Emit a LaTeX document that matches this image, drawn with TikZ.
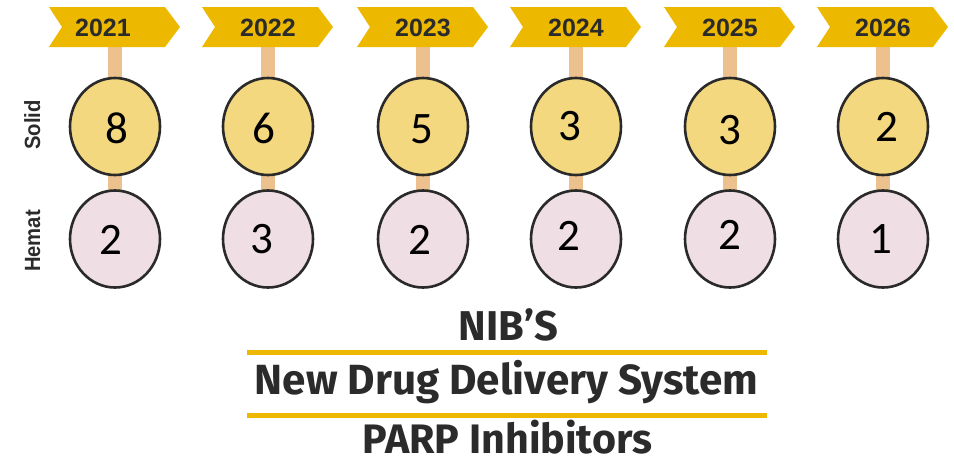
\documentclass[tikz,border=0pt]{standalone}
\usepackage{fontspec}
\setmainfont{Liberation Sans}
\newfontfamily\numfont{Carlito}
\newfontfamily\titlefont{Fira Sans}
\usetikzlibrary{shapes.geometric}
\definecolor{banneryellow}{HTML}{ECB800}
\definecolor{posttan}{HTML}{ECC18E}
\definecolor{solidfill}{HTML}{F3D880}
\definecolor{hematfill}{HTML}{EFDFE5}
\definecolor{rimgray}{HTML}{2A2A2A}
\definecolor{inkgray}{HTML}{2B2B2B}
\tikzset{
  bannerbox/.style={fill=banneryellow, draw=none},
  postbar/.style={fill=posttan, draw=none},
  solidcirc/.style={ellipse, draw=rimgray, line width=2.6pt, fill=solidfill, minimum width=90pt, minimum height=97pt, inner sep=0pt},
  hematcirc/.style={ellipse, draw=rimgray, line width=2.6pt, fill=hematfill, minimum width=90pt, minimum height=97pt, inner sep=0pt},
  yearlabel/.style={anchor=base, inner sep=0pt, text=inkgray, font=\bfseries\fontsize{25}{25}\selectfont},
  countlabel/.style={anchor=base, inner sep=0pt, text=black, font=\numfont\fontsize{45}{45}\selectfont},
  sidelabel/.style={anchor=base, rotate=90, inner sep=0pt, text=inkgray, font=\bfseries\fontsize{22}{22}\selectfont},
  titlelabel/.style={anchor=base, inner sep=0pt, text=inkgray, font=\titlefont\bfseries},
  rule/.style={draw=banneryellow, line width=5pt}
}
\begin{document}
\begin{tikzpicture}[x=1pt, y=-1pt]
\useasboundingbox (0,0) rectangle (954,459);

\foreach \c/\yr/\yx/\s/\sx/\sy/\h/\hx/\hy/\i in {
  115/2021/103/8/117/129/2/111/240/1,
  268/2022/268/6/264/129/3/262/239/2,
  423/2023/423/5/422/129/2/420/240/3,
  576/2024/576/3/570/126/2/569/236/4,
  730/2025/730/3/730/130/2/730/235/5,
  883/2026/883/2/887/127/1/881/239/6}{
  \fill[postbar] (\c-7,47) rectangle (\c+7,190);
  \fill[bannerbox] (\c-66,7) -- (\c+50,7) -- (\c+65,27) -- (\c+50,47) -- (\c-66,47) -- (\c-53,27) -- cycle;
  \node[yearlabel] (year\i) at (\yx,36) {\yr};
  \node[solidcirc] (solid\i) at (\c,126.5) {};
  \node[hematcirc] (hemat\i) at (\c,239) {};
  \node[countlabel] (scount\i) at (\sx,\sy+14.2) {\s};
  \node[countlabel] (hcount\i) at (\hx,\hy+14.2) {\h};
}

\node[sidelabel] (solidlab) at (40,125) {\scalebox{0.92}[1]{Solid}};
\node[sidelabel] (hematlab) at (40,241) {\scalebox{0.92}[1]{Hemat}};

\node[titlelabel] (nibs) at (508.5,340) {\resizebox{99pt}{!}{NIB’S}};
\coordinate (r1a) at (247,352);
\coordinate (r1b) at (767,352);
\draw[rule] (r1a) -- (r1b);
\node[titlelabel] (ndds) at (506.5,394) {\resizebox{503pt}{!}{New Drug Delivery System}};
\coordinate (r2a) at (247,415.5);
\coordinate (r2b) at (767,415.5);
\draw[rule] (r2a) -- (r2b);
\node[titlelabel] (parp) at (507.5,453) {\resizebox{289pt}{!}{PARP Inhibitors}};
\end{tikzpicture}
\end{document}
